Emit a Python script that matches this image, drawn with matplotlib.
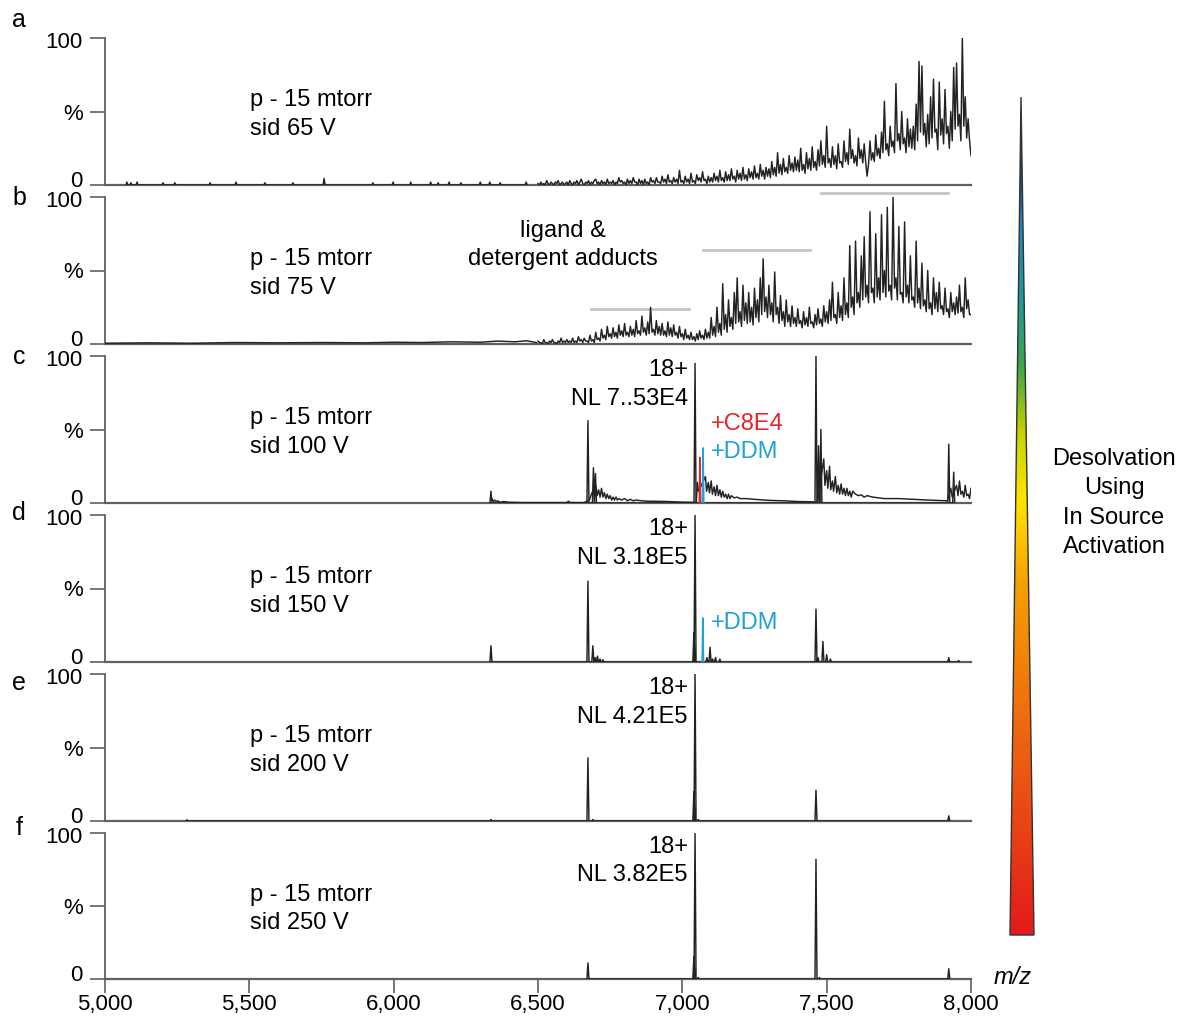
import matplotlib
matplotlib.use("Agg")
import matplotlib.pyplot as plt
import matplotlib.colors as mcolors
import matplotlib.transforms as mtransforms
from matplotlib.patches import Polygon
import numpy as np

plt.rcParams['font.family'] = ['Liberation Sans', 'DejaVu Sans']

# ---- data (m/z, % intensity) ----
panel_letters = ['a', 'b', 'c', 'd', 'e', 'f']
conditions = ['p - 15 mtorr\nsid 65 V', 'p - 15 mtorr\nsid 75 V', 'p - 15 mtorr\nsid 100 V',
              'p - 15 mtorr\nsid 150 V', 'p - 15 mtorr\nsid 200 V', 'p - 15 mtorr\nsid 250 V']
nl_labels = [None, None, 'NL 7..53E4', 'NL 3.18E5', 'NL 4.21E5', 'NL 3.82E5']
x_ticks = [5000, 5500, 6000, 6500, 7000, 7500, 8000]
x_ticklabels = ['5,000', '5,500', '6,000', '6,500', '7,000', '7,500', '8,000']

# panel a: sparse spikes at low m/z, then a dense noisy envelope (5 m/z steps from 6500)
a_spike_mz = [5076, 5090, 5111, 5201, 5242, 5364, 5454, 5554, 5651, 5759, 5928, 5998,
              6059, 6128, 6154, 6192, 6233, 6300, 6333, 6369, 6459]
a_spike_int = [2, 1.5, 2, 1.5, 1.5, 1.5, 2, 1.5, 1.5, 4.5, 1.5, 2,
               2, 2, 1.5, 2, 1.5, 2, 2, 1.5, 2]
a_dense_int = [1, 0, 2, 0, 1, 0, 3, 1, 0, 2, 1, 0, 2, 1, 3, 0, 1, 2, 0, 1,
               2, 0, 3, 1, 0, 2, 1, 3, 0, 2, 4, 1, 0, 2, 1, 3, 0, 2, 1, 3,
               4, 1, 2, 0, 3, 1, 2, 0, 4, 1, 2, 1, 3, 0, 2, 1, 5, 2, 3, 1,
               2, 0, 4, 1, 3, 1, 5, 2, 2, 0, 4, 1, 3, 0, 4, 1, 2, 0, 5, 2,
               3, 1, 5, 2, 2, 1, 6, 2, 4, 1, 7, 2, 3, 1, 5, 2, 4, 1, 10, 2,
               3, 1, 6, 2, 4, 1, 8, 2, 3, 1, 7, 3, 5, 2, 9, 3, 4, 1, 6, 2,
               5, 2, 8, 3, 6, 2, 10, 3, 5, 2, 9, 3, 7, 3, 11, 4, 6, 2, 10, 4,
               8, 3, 12, 4, 7, 3, 11, 5, 9, 4, 13, 5, 8, 4, 14, 6, 10, 4, 12, 6,
               11, 5, 16, 7, 12, 6, 22, 8, 14, 7, 18, 9, 12, 8, 20, 10, 15, 9, 19, 10,
               17, 9, 25, 10, 14, 8, 22, 11, 18, 10, 26, 12, 16, 10, 24, 13, 30, 14, 20, 12,
               40, 15, 18, 12, 26, 14, 20, 11, 28, 15, 16, 12, 30, 16, 22, 14, 38, 18, 24, 15,
               20, 13, 32, 18, 24, 15, 28, 16, 6, 14, 30, 17, 22, 16, 34, 20, 25, 18, 36, 22,
               57, 24, 28, 20, 40, 26, 30, 22, 69, 30, 35, 24, 50, 28, 32, 22, 45, 26, 38, 25,
               40, 24, 55, 30, 84, 36, 81, 34, 42, 26, 48, 28, 60, 32, 72, 36, 38, 24, 70, 34,
               45, 28, 65, 35, 40, 25, 50, 30, 80, 38, 83, 40, 48, 30, 100, 40, 60, 32, 45, 30,
               20]

# panel b: low baseline then three adduct envelopes (5 m/z steps from 6500)
b_low_mz = [5000, 5150, 5300, 5450, 5600, 5750, 5900, 6000, 6100, 6200, 6300, 6360, 6420, 6460, 6495]
b_low_int = [0.5, 0.8, 0.5, 1, 0.8, 1, 0.8, 1.2, 1, 1.5, 1.2, 2, 1.5, 2.2, 1]
b_dense_int = [2, 1, 1, 0, 3, 1, 1, 0, 2, 1, 3, 1, 1, 0, 2, 1, 4, 1, 2, 1,
               3, 1, 2, 1, 4, 1, 2, 1, 5, 2, 3, 1, 4, 2, 2, 1, 6, 2, 3, 1,
               8, 3, 4, 2, 10, 4, 6, 3, 12, 5, 7, 4, 11, 5, 8, 4, 13, 6, 9, 5,
               14, 6, 8, 5, 12, 6, 10, 5, 16, 7, 9, 6, 19, 8, 11, 6, 15, 7, 25, 8,
               10, 6, 16, 7, 12, 6, 14, 6, 9, 5, 15, 6, 11, 5, 13, 6, 8, 4, 12, 5,
               7, 3, 10, 4, 6, 3, 8, 3, 5, 2, 7, 3, 9, 4, 6, 3, 10, 4, 8, 4,
               18, 6, 12, 5, 25, 8, 14, 6, 41, 10, 20, 8, 30, 12, 18, 10, 35, 14, 45, 15,
               22, 12, 40, 16, 28, 14, 35, 15, 25, 13, 38, 18, 30, 15, 45, 20, 58, 22, 32, 18,
               40, 20, 28, 15, 49, 20, 25, 14, 33, 16, 22, 12, 30, 15, 20, 12, 26, 14, 18, 12,
               24, 14, 16, 11, 22, 13, 18, 12, 25, 14, 15, 11, 20, 13, 24, 14, 17, 12, 26, 15,
               22, 14, 30, 16, 42, 18, 20, 14, 35, 18, 26, 16, 45, 20, 28, 18, 67, 25, 32, 20,
               70, 28, 35, 25, 60, 30, 73, 32, 40, 28, 90, 35, 38, 28, 75, 32, 45, 30, 88, 35,
               50, 32, 93, 36, 40, 30, 100, 38, 45, 30, 80, 34, 35, 28, 83, 32, 40, 28, 60, 30,
               32, 25, 70, 28, 38, 24, 55, 26, 30, 22, 50, 24, 28, 20, 45, 24, 35, 22, 42, 24,
               26, 20, 38, 22, 24, 18, 35, 22, 28, 20, 32, 21, 40, 22, 25, 18, 45, 24, 30, 20,
               20]
# grey bars marking the adduct distributions: start, end, level
bar_start = [6683, 7071, 7480]
bar_end = [7023, 7442, 7920]
bar_level = [23.5, 64, 103]

# panel c: resolved peaks plus tailing adduct noise
c_peak_mz = [6337, 6673, 6692, 6699, 7044, 7463, 7472, 7480, 7923, 7940]
c_peak_int = [8, 56, 24, 20, 95, 100, 39, 50, 40, 21]
c_tail_mz = [6340, 6345, 6350, 6355, 6360, 6370, 6380, 6400, 6450, 6600, 6605, 6612, 6660,
             6678, 6685, 6700, 6705, 6710, 6715, 6720, 6725, 6730, 6735, 6740, 6745, 6750,
             6755, 6760, 6765, 6770, 6775, 6780, 6790, 6800, 6810, 6820, 6830, 6840, 6860,
             6880, 6900, 6950, 7000, 7036,
             7048, 7052, 7056, 7080, 7084, 7090, 7094, 7100, 7104, 7110, 7115, 7120, 7125,
             7130, 7135, 7140, 7145, 7150, 7155, 7160, 7165, 7170, 7180, 7190, 7200, 7220,
             7250, 7300, 7350, 7400, 7455,
             7468, 7490, 7494, 7500, 7504, 7510, 7514, 7520, 7524, 7530, 7535, 7540, 7545,
             7550, 7555, 7560, 7565, 7570, 7575, 7580, 7585, 7590, 7600, 7610, 7620, 7630,
             7640, 7660, 7680, 7700, 7750, 7800, 7850, 7918,
             7930, 7935, 7950, 7955, 7960, 7965, 7970, 7975, 7980, 7985, 7990, 7995, 8000]
c_tail_int = [3, 1, 2, 1, 1.5, 0.5, 1, 0.5, 0.3, 0.3, 1.2, 0.3, 0.3,
              2, 6, 12, 5, 9, 4, 10, 4, 7, 3, 6, 3, 5,
              2, 4, 2, 4, 2, 3, 2, 3, 1.5, 2.5, 1.5, 2, 1.5,
              1.2, 1.2, 1, 0.6, 0.5,
              0, 14, 8, 18, 8, 14, 7, 15, 6, 11, 5, 12, 5,
              9, 4, 8, 4, 6, 3, 6, 3, 5, 3.5, 4, 3, 3,
              2.5, 1.8, 1.5, 1, 0.8,
              0, 30, 12, 22, 10, 25, 9, 15, 8, 18, 7, 12, 6,
              13, 6, 10, 5, 10, 5, 8, 4, 8, 6, 5, 5.5, 4,
              5, 4, 3.5, 3, 3, 2.5, 2, 1.5,
              10, 4, 12, 5, 15, 6, 8, 4, 12, 5, 6, 3, 10]
c_c8e4_mz, c_c8e4_int = [7061], [31]
c_ddm_mz, c_ddm_int = [7072], [37.5]

# panel d
d_peak_mz = [6337, 6673, 6690, 6698, 6706, 6715, 6725, 7040, 7044, 7085, 7096, 7105,
             7115, 7130, 7463, 7470, 7487, 7500, 7513, 7923, 7957]
d_peak_int = [11, 55, 11, 3, 4, 2, 1.5, 20, 100, 3, 10, 2,
              3, 2, 36, 3, 14, 5, 2, 3, 1]
d_ddm_mz, d_ddm_int = [7071], [30]

# panel e
e_peak_mz = [5284, 6337, 6673, 6690, 7040, 7044, 7055, 7463, 7923]
e_peak_int = [0.8, 1, 43, 1, 20, 100, 1, 21, 3.5]

# panel f
f_peak_mz = [6673, 7040, 7044, 7055, 7463, 7475, 7923]
f_peak_int = [11, 15, 100, 1, 82, 1, 7]

# gradient of the triangle, bottom (0) to top (1)
tri_stops = [0.0, 0.2, 0.42, 0.52, 0.6, 0.68, 0.76, 0.85, 0.93, 1.0]
tri_colors = ['#e31b1b', '#ec5a12', '#f5a000', '#ffe400', '#c5d300', '#3ea547',
              '#1a9c98', '#1d86c4', '#1a3b5a', '#000000']

# ---- helpers ----
LINE = '#222222'
SPINE = '#606060'
W, H = 1179, 1018
FS = 17


def sticks(mz, h, w=3.5):
    mz = np.asarray(mz, float)
    h = np.asarray(h, float)
    x = (mz[:, None] + np.array([-w, 0, w])[None, :]).ravel()
    y = np.column_stack([np.zeros_like(h), h, np.zeros_like(h)]).ravel()
    return x, y


def grid_from(start, n, step=5):
    return start + step * np.arange(n)


panels_px = [(38, 185), (197, 344), (356, 503), (515, 662), (674, 821), (833, 979)]
letter_y = [20, 198, 357, 513, 683, 828]

fig = plt.figure(figsize=(W / 100, H / 100), dpi=100)
axes = []
for i, (top, bot) in enumerate(panels_px):
    ax = fig.add_axes([105 / W, 1 - bot / H, (971 - 105) / W, (bot - top) / H])
    ax.set_xlim(5000, 8000)
    ax.set_ylim(0, 100)
    for s in ['top', 'right']:
        ax.spines[s].set_visible(False)
    ax.spines['left'].set_color(SPINE)
    ax.spines['bottom'].set_color(SPINE)
    ax.spines['left'].set_linewidth(1.3)
    ax.spines['bottom'].set_linewidth(1.6)
    ax.set_yticks([0, 50, 100])
    ax.set_yticklabels(['0', '%', '100'])
    ax.tick_params(axis='y', direction='out', length=11, width=1.2, color=SPINE,
                   labelsize=16, pad=5)
    # stagger the 0 / 100 labels of neighbouring panels like the original
    ylabs = ax.get_yticklabels()
    ylabs[0].set_transform(ylabs[0].get_transform() +
                           mtransforms.ScaledTranslation(0, 4.5 / 72, fig.dpi_scale_trans))
    ylabs[2].set_transform(ylabs[2].get_transform() +
                           mtransforms.ScaledTranslation(0, -1.5 / 72, fig.dpi_scale_trans))
    if i < 5:
        ax.set_xticks([])
    else:
        ax.set_xticks(x_ticks)
        ax.set_xticklabels(x_ticklabels)
        ax.tick_params(axis='x', direction='out', length=10, width=1.2, color=SPINE,
                       labelsize=16, pad=1)
    ax.text(5502, 48, conditions[i], fontsize=FS, va='center', ha='left', linespacing=1.4)
    fig.text(19 / W, 1 - letter_y[i] / H, panel_letters[i], fontsize=18,
             ha='center', va='center')
    if nl_labels[i]:
        ax.text(7019, 90.5, '18+', fontsize=FS, ha='right', va='center')
        ax.text(7019, 71, nl_labels[i], fontsize=FS, ha='right', va='center')
    axes.append(ax)

kw = dict(color=LINE, lw=1.05, zorder=3)

# a
ax = axes[0]
ax.plot(*sticks(a_spike_mz, a_spike_int), **kw)
ax.plot(grid_from(6500, len(a_dense_int)), a_dense_int, **kw)

# b
ax = axes[1]
ax.plot(b_low_mz, b_low_int, **kw)
ax.plot(grid_from(6500, len(b_dense_int)), b_dense_int, **kw)
for s, e, lv in zip(bar_start, bar_end, bar_level):
    ax.plot([s, e], [lv, lv], color='#c4c4c4', lw=2, clip_on=False, zorder=2)
ax.text(6586, 77, 'ligand &', fontsize=FS, ha='center', va='center')
ax.text(6586, 58, 'detergent adducts', fontsize=FS, ha='center', va='center')

# c
ax = axes[2]
ax.plot(c_tail_mz, c_tail_int, **kw)
ax.plot(*sticks(c_peak_mz, c_peak_int), **kw)
ax.plot(*sticks(c_c8e4_mz, c_c8e4_int, 2.5), color='#e3262b', lw=1.1, zorder=4)
ax.plot(*sticks(c_ddm_mz, c_ddm_int, 2.5), color='#22a0dc', lw=1.1, zorder=4)
ax.text(7099, 54, '+C8E4', color='#e3262b', fontsize=FS, va='center')
ax.text(7099, 35, '+DDM', color='#22a0dc', fontsize=FS, va='center')

# d
ax = axes[3]
ax.plot(*sticks(d_peak_mz, d_peak_int), **kw)
ax.plot(*sticks(d_ddm_mz, d_ddm_int, 2.5), color='#22a0dc', lw=1.1, zorder=4)
ax.text(7099, 26.5, '+DDM', color='#22a0dc', fontsize=FS, va='center')

# e, f
axes[4].plot(*sticks(e_peak_mz, e_peak_int), **kw)
axes[5].plot(*sticks(f_peak_mz, f_peak_int), **kw)

fig.text(1013 / W, 1 - 978 / H, 'm/z', fontsize=FS, style='italic', ha='center', va='center')

# gradient triangle
tax = fig.add_axes([1000 / W, 1 - 945 / H, 45 / W, 860 / H])
tax.set_xlim(1000, 1045)
tax.set_ylim(945, 85)
tax.axis('off')
cmap = mcolors.LinearSegmentedColormap.from_list('desolv', list(zip(tri_stops, tri_colors)))
grad = np.linspace(1, 0, 256)[:, None]
im = tax.imshow(grad, cmap=cmap, aspect='auto', extent=[1008, 1036, 935, 97],
                interpolation='bilinear')
tri = Polygon([[1021, 97], [1010, 935], [1034, 935]], closed=True, facecolor='none',
              edgecolor='#333333', lw=1.0)
tax.add_patch(tri)
im.set_clip_path(tri)

fig.text(1114 / W, 1 - 503 / H, 'Desolvation\nUsing\nIn Source\nActivation', fontsize=FS,
         ha='center', va='center', linespacing=1.42)

fig.savefig('out.png', dpi=100)
